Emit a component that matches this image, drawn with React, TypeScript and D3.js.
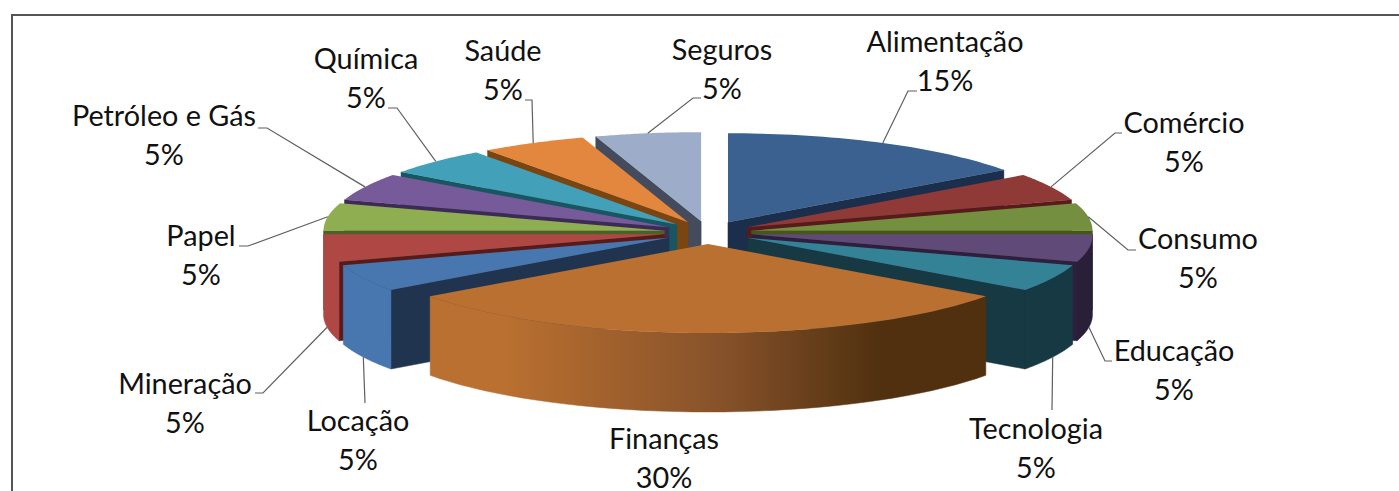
import React from "react";
import * as d3 from "d3";

const categories = ["Alimentação","Comércio","Consumo","Educação","Tecnologia","Finanças","Locação","Mineração","Papel","Petróleo e Gás","Química","Saúde","Seguros"];
const values = [15,5,5,5,5,30,5,5,5,5,5,5,5];
const topColors = ["#3A618F","#903A38","#758F40","#5F4A78","#348296","#BA7030","#4877AF","#AF4845","#8FAE51","#775A99","#43A0B9","#E2873D","#9DADC9"];
const wallColors = ["#1B2F4D","#561B1A","#46561F","#2F1F3F","#173943","#50300F","#20344F","#561C1B","#4E5F28","#3E2B55","#195663","#7A4510","#434B5C"];
const sideColors = ["#3A618F","#903A38","#758F40","#2A1F38","#173943","url(#finSide)","#4877AF","#AF4845","#8FAE51","#775A99","#43A0B9","#E2873D","#9DADC9"];
// depth order: back to front
const paintOrder = [12,0,11,1,10,9,2,8,7,3,6,4,5];

const W = 1399, H = 491;
const cx = 708, cy = 232.5, R = 341, ry = 89, depth = 79, explode = 44, persp = 0.012;

// label centre, elbow (bend) and line end, per category
const labelPos: [number, number][] = [[945,42],[1184,123],[1198,239],[1174,351],[1036,429],[664,439],[358,421],[185,384],[201,236],[164,116],[366,59],[503,51],[722,50]];
const leaderPts: [number, number][][] = [
  [[908,91],[917,91]],[[1115,133],[1122,133]],[[1128,250],[1136,250]],[[1105,361],[1112,361]],
  [[1052,410]],[],[[365,403]],[[263,393],[255,393]],[[248,246],[239,246]],[[267,128],[258,128]],
  [[397,108],[388,108]],[[532,100],[525,100]],[[693,98],[701,98]],
];

const scaleX = d3.scaleLinear().domain([-1,1]).range([-R,R]);
const scaleY = d3.scaleLinear().domain([-1,1]).range([-ry,ry]);
const line = d3.line<[number,number]>();

export default function App() {
  const arcs = d3.pie<number>().sort(null).startAngle(0).endAngle(2*Math.PI)(values);
  const geo = arcs.map((a) => {
    const mid = (a.startAngle + a.endAngle) / 2;
    const ax = cx + explode * Math.sin(mid);
    const ay = cy - explode * Math.cos(mid) * (ry / R);
    const pt = (t: number, dz = 0): [number, number] => [
      ax + scaleX(Math.sin(t)) * (1 + persp * Math.max(0, -Math.cos(t))),
      ay - scaleY(Math.cos(t)) + dz,
    ];
    const rim = d3.range(0, 41).map((i) => pt(a.startAngle + (a.endAngle - a.startAngle) * i / 40));
    const rimLow = d3.range(0, 41).map((i) => pt(a.startAngle + (a.endAngle - a.startAngle) * i / 40, depth));
    return { a, mid, ax, ay, pt, rim, rimLow };
  });
  const wall = (g: any, t: number) => line([[g.ax,g.ay], g.pt(t), g.pt(t,depth), [g.ax,g.ay+depth]]) + "Z";
  return (
    <svg width={W} height={H} viewBox={`0 0 ${W} ${H}`} style={{position:"fixed",left:0,top:0,background:"#fff"}}>
      <defs>
        <linearGradient id="finSide" gradientUnits="userSpaceOnUse" x1={430} x2={987} y1={0} y2={0}>
          <stop offset="0.13" stopColor="#BA7030"/>
          <stop offset="0.52" stopColor="#87522A"/>
          <stop offset="0.81" stopColor="#50300F"/>
          <stop offset="1" stopColor="#50300F"/>
        </linearGradient>
      </defs>
      <path d="M12,491V15H1399" fill="none" stroke="#555" strokeWidth={2}/>
      {paintOrder.map((i) => {
        const g = geo[i];
        const isFin = g.a.endAngle - g.a.startAngle > Math.PI / 2;
        const isRight = g.mid < Math.PI;
        const frontWall = isRight ? g.a.endAngle : g.a.startAngle;
        const sideVisible = g.a.startAngle >= Math.PI/2 - 1e-6 && g.a.endAngle <= 3*Math.PI/2 + 1e-6;
        return (
          <g key={categories[i]}>
            {!isFin && <path d={wall(g, frontWall)} fill={wallColors[i]} stroke={wallColors[i]} strokeWidth={0.5}/>}
            {sideVisible && <path d={line([...g.rim, ...[...g.rimLow].reverse()]) + "Z"} fill={sideColors[i]} stroke={sideColors[i]} strokeWidth={0.5}/>}
            <path d={line([[g.ax,g.ay], ...g.rim]) + "Z"} fill={topColors[i]}/>
          </g>
        );
      })}
      {geo.map((g, i) => {
        const low = g.mid > Math.PI/2 && g.mid < 3*Math.PI/2;
        const start = g.pt(g.mid, low ? depth : 0);
        if (!leaderPts[i].length) return null;
        return <path key={i} d={line([start, ...leaderPts[i]]) ?? ""} fill="none" stroke="#5f5f5f" strokeWidth={1.2}/>;
      })}
      <g fontFamily="Lato, Carlito, sans-serif" fontSize={28.8} textAnchor="middle" fill="#111">
        {categories.map((c, i) => (
          <g key={c}>
            <text x={labelPos[i][0]} y={labelPos[i][1]} dy="0.35em">{c}</text>
            <text x={labelPos[i][0]} y={labelPos[i][1] + 38.5} dy="0.35em">{values[i]}%</text>
          </g>
        ))}
      </g>
    </svg>
  );
}
